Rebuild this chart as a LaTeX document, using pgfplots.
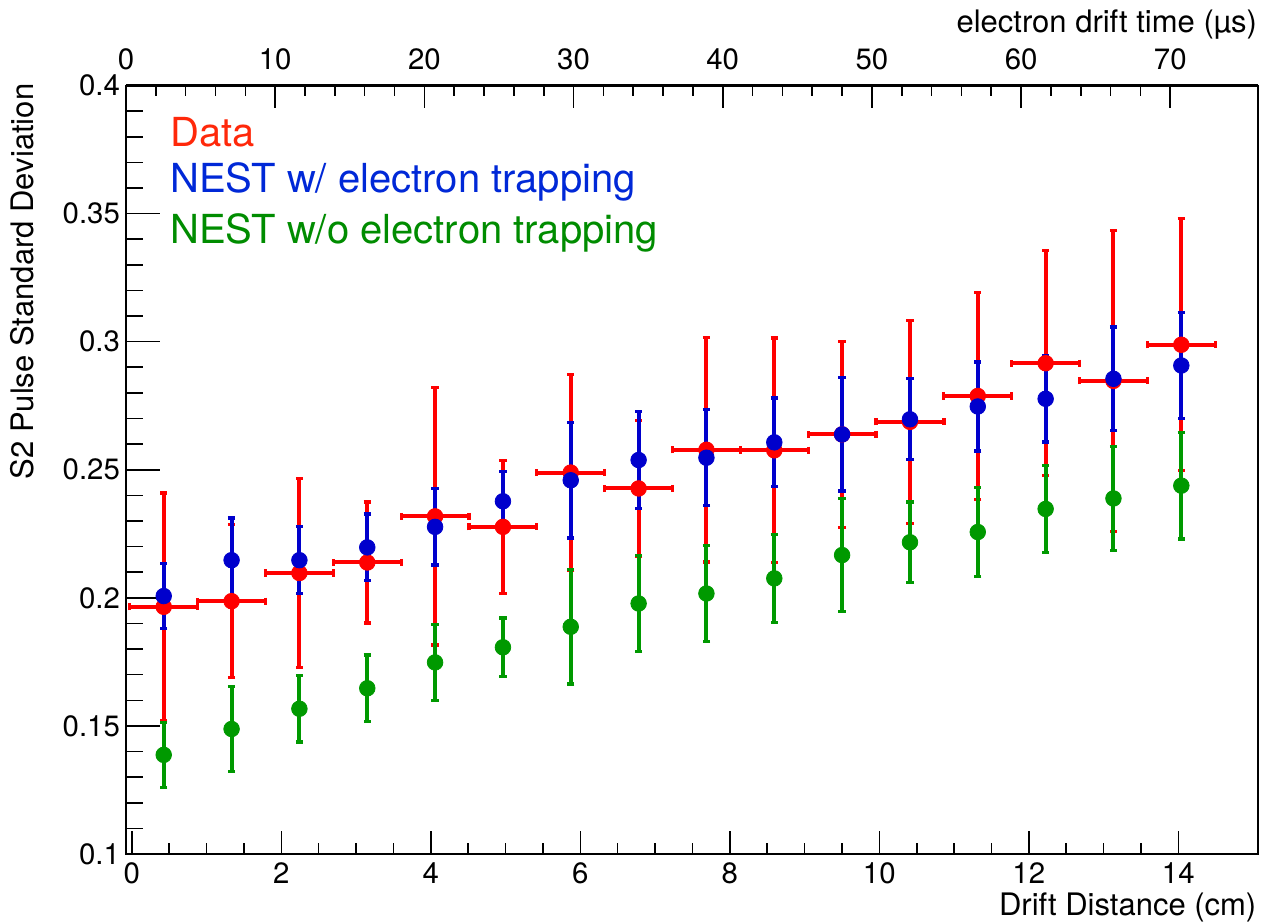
\documentclass[border=0pt]{standalone}
\usepackage{fontspec}
\setmainfont{TeX Gyre Heros}
\usepackage{pgfplots}
\pgfplotsset{compat=1.18}
\definecolor{rred}{RGB}{255,0,0}
\definecolor{rblue}{RGB}{0,0,204}
\definecolor{rgreen}{RGB}{0,153,0}
\definecolor{tred}{RGB}{255,40,10}
\definecolor{tblue}{RGB}{0,40,215}
\definecolor{tgreen}{RGB}{0,140,0}
\pgfplotstableread{
x      y       ex     ey
0.427  0.1965  0.454  0.0444
1.335  0.1987  0.454  0.0299
2.242  0.2097  0.454  0.0368
3.150  0.2138  0.454  0.0236
4.057  0.2318  0.454  0.0502
4.965  0.2277  0.454  0.0260
5.872  0.2489  0.454  0.0382
6.780  0.2427  0.454  0.0266
7.687  0.2578  0.454  0.0438
8.595  0.2576  0.454  0.0438
9.502  0.2638  0.454  0.0364
10.410 0.2687  0.454  0.0396
11.317 0.2788  0.454  0.0405
12.225 0.2916  0.454  0.0439
13.132 0.2847  0.454  0.0588
14.040 0.2988  0.454  0.0492
}\datatab
\pgfplotstableread{
x      y       ey
0.427  0.1387  0.0126
1.335  0.1488  0.0165
2.242  0.1567  0.0130
3.150  0.1647  0.0130
4.057  0.1748  0.0149
4.965  0.1807  0.0114
5.872  0.1887  0.0223
6.780  0.1978  0.0188
7.687  0.2017  0.0187
8.595  0.2076  0.0172
9.502  0.2167  0.0220
10.410 0.2217  0.0157
11.317 0.2257  0.0174
12.225 0.2347  0.0169
13.132 0.2388  0.0202
14.040 0.2438  0.0208
}\greentab
\pgfplotstableread{
x      y       ey
0.427  0.2007  0.0126
1.335  0.2147  0.0165
2.242  0.2147  0.0131
3.150  0.2197  0.0130
4.057  0.2277  0.0149
4.965  0.2377  0.0117
5.872  0.2459  0.0225
6.780  0.2538  0.0190
7.687  0.2547  0.0187
8.595  0.2607  0.0173
9.502  0.2638  0.0221
10.410 0.2697  0.0158
11.317 0.2747  0.0174
12.225 0.2777  0.0169
13.132 0.2855  0.0202
14.040 0.2907  0.0208
}\bluetab
\newcommand{\tickfont}{\fontsize{14.7}{17}\selectfont}
\newcommand{\labfont}{\fontsize{15.5}{18}\selectfont}
\newcommand{\legfont}{\fontsize{20}{24}\selectfont}
\pgfplotsset{
  error bars/myerr/.style={error bar style={line width=2pt, #1},
    error mark options={rotate=90, line width=1.6pt, mark size=1.8pt, #1}},
}
\begin{document}
\begin{tikzpicture}
\pgfplotsset{
  common/.style={
    width=566.15pt, height=384.25pt, scale only axis,
    xmin=-0.0776, xmax=15.07, ymin=0.1, ymax=0.4,
    tick align=inside,
    /pgf/number format/assume math mode=true,
    ticklabel style={font=\tickfont},
    every tick/.style={black, line width=0.8pt},
    axis line style={line width=1pt},
  },
}
% main axis: data + y ticks
\begin{axis}[common,
  clip=false,
  xtick=\empty,
  ytick={0.1,0.15,0.2,0.25,0.3,0.35,0.4},
  minor y tick num=4,
  ytick pos=left,
  major tick length=17pt, minor tick length=8.5pt,
  yticklabel style={/pgf/number format/fixed, /pgf/number format/precision=2, xshift=0.5pt},
]
\addplot[only marks, mark=*, mark size=3.9pt, color=rred,
  error bars/.cd, x dir=both, x explicit, y dir=both, y explicit, myerr=rred]
  table[x=x, y=y, x error=ex, y error=ey] {\datatab};
\addplot[only marks, mark=*, mark size=3.9pt, color=rgreen,
  error bars/.cd, y dir=both, y explicit, myerr=rgreen]
  table[x=x, y=y, y error=ey] {\greentab};
\addplot[only marks, mark=*, mark size=3.9pt, color=rblue,
  error bars/.cd, y dir=both, y explicit, myerr=rblue]
  table[x=x, y=y, y error=ey] {\bluetab};
\node[anchor=base west, inner sep=0pt, font=\legfont, text=tred] at ([xshift=22pt,yshift=-30.6pt]rel axis cs:0,1) {Data};
\node[anchor=base west, inner sep=0pt, font=\legfont, text=tblue] at ([xshift=22pt,yshift=-53.6pt]rel axis cs:0,1) {NEST w/ electron trapping};
\node[anchor=base west, inner sep=0pt, font=\legfont, text=tgreen] at ([xshift=22pt,yshift=-78.9pt]rel axis cs:0,1) {NEST w/o electron trapping};
\node[anchor=base east, inner sep=0pt, rotate=90, font=\labfont] at ([xshift=-46pt,yshift=1.1pt]rel axis cs:0,1) {S2 Pulse Standard Deviation};
\node[anchor=base east, inner sep=0pt, font=\labfont] at ([xshift=-0.8pt,yshift=-30.5pt]rel axis cs:1,0) {Drift Distance (cm)};
\node[anchor=base east, inner sep=0pt, font=\labfont] at ([xshift=-0.5pt,yshift=26.75pt]rel axis cs:1,1) {electron drift time (µs)};
\end{axis}
% bottom x axis ticks
\begin{axis}[common,
  axis x line*=bottom, hide y axis,
  xtick={0,2,...,14}, minor x tick num=3,
  major tick length=11.5pt, minor tick length=5.5pt,
  xticklabel style={yshift=-1pt},
]
\end{axis}
% top x axis (drift time)
\begin{axis}[common,
  xmin=0, xmax=75.9,
  axis x line*=top, hide y axis,
  xtick={0,10,...,70}, minor x tick num=4,
  xticklabel pos=upper,
  major tick length=11.5pt, minor tick length=5.5pt,
  xticklabel style={yshift=4.4pt},
]
\end{axis}
\pgfresetboundingbox
\path[use as bounding box] (-63pt,-34.5pt) rectangle (567.5pt,427pt);
\end{tikzpicture}
\end{document}
